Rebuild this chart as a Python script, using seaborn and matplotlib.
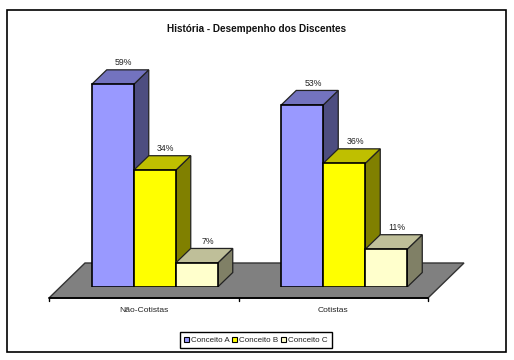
import pandas as pd
import matplotlib
matplotlib.use('Agg')
import matplotlib.pyplot as plt
from matplotlib.patches import Polygon, Rectangle
import seaborn as sns

title = 'História - Desempenho dos Discentes'
groups = ['Não-Cotistas', 'Cotistas']
conceitos = ['Conceito A', 'Conceito B', 'Conceito C']
conceito_a = [59, 53]
conceito_b = [34, 36]
conceito_c = [7, 11]

front_colors = ['#9999FF', '#FFFF00', '#FFFFCC']
top_colors = ['#7373BF', '#BFBF00', '#BFBF99']
side_colors = ['#4D4D80', '#808000', '#808066']

W, H = 514, 360
sns.set_theme(style='white')
plt.rcParams['font.family'] = ['Liberation Sans', 'DejaVu Sans']

df = pd.DataFrame({'grupo': groups, 'Conceito A': conceito_a,
                   'Conceito B': conceito_b, 'Conceito C': conceito_c})
df = df.melt(id_vars='grupo', var_name='conceito', value_name='pct')

fig = plt.figure(figsize=(W / 100, H / 100), dpi=100, facecolor='white')

# axes = plane of the bar fronts, everything 3d hangs off it in pixel offsets
ax_w, ax_h = 379, 237
ax = fig.add_axes([60 / W, (H - 287) / H, ax_w / W, ax_h / H])
ax.patch.set_alpha(0)
sns.barplot(data=df, x='grupo', y='pct', hue='conceito', order=groups,
            hue_order=conceitos, palette=front_colors, width=0.665, gap=0,
            saturation=1, edgecolor='black', linewidth=1.2, ax=ax)
ax.set_xlim(-0.5, 1.5)
ax.set_ylim(0, ax_h / 3.435)
ax.set_xlabel('')
ax.set_ylabel('')
ax.set_xticks([])
ax.set_yticks([])
sns.despine(ax=ax, left=True, bottom=True)

ux = 2 / ax_w   # data units per pixel
uy = (ax_h / 3.435) / ax_h
dx, dy = 15 * ux, 14.5 * uy

# floor
fx0, fy0 = -11 * ux, -11 * uy
bx, by = 25 * ux, 24 * uy
floor = Polygon([(-0.5 + fx0, fy0), (1.5 + fx0, fy0), (1.5 + bx, by), (-0.5 + bx, by)],
                facecolor='#808080', edgecolor='#333333', lw=1.0, clip_on=False, zorder=1)
ax.add_patch(floor)
ax.plot([-0.5 + fx0, 1.5 + fx0], [fy0, fy0], color='black', lw=1.3, clip_on=False, zorder=1.5)
for i in range(3):
    tx = -0.5 + fx0 + i
    ax.plot([tx, tx], [fy0, fy0 - 3 * uy], color='black', lw=1, clip_on=False, zorder=1.5)
for i, g in enumerate(groups):
    ax.text(i + fx0, -23.5 * uy, g, ha='center', va='center', fontsize=6.1,
            color='#222222', clip_on=False)

# depth faces for each seaborn bar
z = 2
for k, cont in enumerate(ax.containers):
    for bar in cont:
        x0, w, h = bar.get_x(), bar.get_width(), bar.get_height()
        x1 = x0 + w
        side = Polygon([(x1, 0), (x1 + dx, dy), (x1 + dx, h + dy), (x1, h)],
                       facecolor=side_colors[k], edgecolor='#222222', lw=0.9, zorder=z)
        top = Polygon([(x0, h), (x0 + dx, h + dy), (x1 + dx, h + dy), (x1, h)],
                      facecolor=top_colors[k], edgecolor='#222222', lw=0.9, zorder=z + 0.1)
        ax.add_patch(side)
        ax.add_patch(top)
        bar.set_zorder(z + 0.2)
        ax.text(x0 + w / 2 + dx / 2 + 3.5 * ux, h + dy + 7 * uy, f'{int(h)}%', ha='center',
                va='center', fontsize=6.3, color='#222222', zorder=10)
        z += 1

handles, labels = ax.get_legend_handles_labels()
ax.get_legend().remove()
leg = fig.legend(handles, labels, loc='center', bbox_to_anchor=(255.8 / W, (H - 340.3) / H),
                 ncol=3, fontsize=5.8, frameon=True, fancybox=False, edgecolor='black',
                 framealpha=1, borderpad=0.55, borderaxespad=0, handlelength=0.6,
                 handleheight=0.6, handletextpad=0.25, columnspacing=0.35,
                 labelcolor='#222222')
leg.get_frame().set_linewidth(1.0)
for p in leg.get_patches():
    p.set_linewidth(0.8)

fig.add_artist(Rectangle((6.5 / W, (H - 352) / H), 499.5 / W, 342 / H, fill=False,
                         edgecolor='black', lw=1.2, transform=fig.transFigure))
fig.text(256.5 / W, (H - 28.5) / H, title, ha='center', va='center', fontsize=7.2,
         fontweight='bold', color='#111111')

fig.savefig('out.png', dpi=100)
